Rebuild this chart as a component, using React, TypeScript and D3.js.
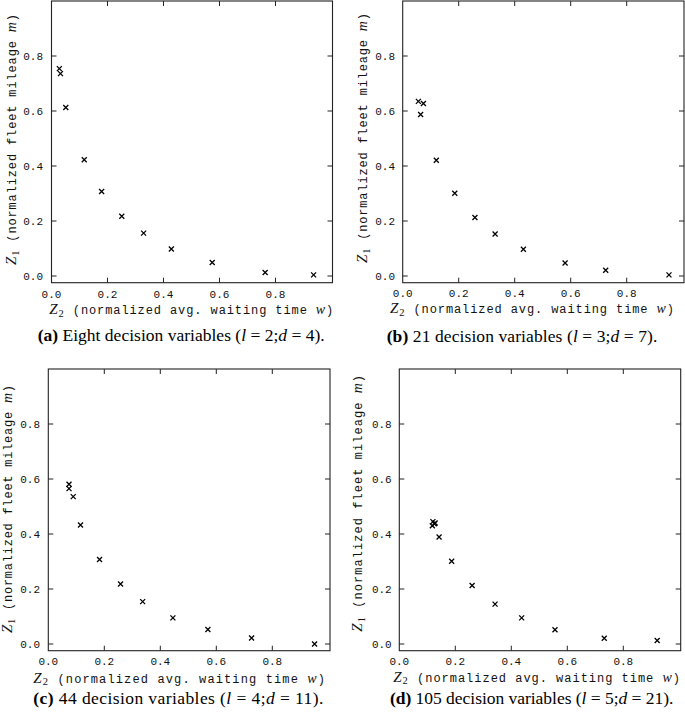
import React from "react";
import * as d3 from "d3";

// ---- Data (normalized avg. waiting time w  vs  normalized fleet mileage m) ----
const panelAW = [0.028, 0.032, 0.051, 0.117, 0.179, 0.251, 0.329, 0.428, 0.574, 0.763, 0.936];
const panelAM = [0.754, 0.736, 0.613, 0.423, 0.307, 0.217, 0.156, 0.098, 0.049, 0.013, 0.004];

const panelBW = [0.056, 0.074, 0.064, 0.120, 0.186, 0.258, 0.330, 0.431, 0.580, 0.725, 0.951];
const panelBM = [0.635, 0.627, 0.587, 0.421, 0.301, 0.213, 0.153, 0.097, 0.047, 0.021, 0.004];

const panelCW = [0.074, 0.074, 0.089, 0.115, 0.183, 0.258, 0.337, 0.445, 0.570, 0.726, 0.951];
const panelCM = [0.581, 0.565, 0.536, 0.433, 0.307, 0.218, 0.154, 0.095, 0.053, 0.022, 0.0];

const panelDW = [0.120, 0.128, 0.118, 0.125, 0.142, 0.187, 0.260, 0.342, 0.437, 0.556, 0.732, 0.921];
const panelDM = [0.445, 0.440, 0.430, 0.437, 0.389, 0.301, 0.213, 0.145, 0.095, 0.052, 0.021, 0.013];

const xTickValues = [0.0, 0.2, 0.4, 0.6, 0.8];
const yTickValues = [0.0, 0.2, 0.4, 0.6, 0.8];

const captionLetters = ["(a)", "(b)", "(c)", "(d)"];
const captionLeads = ["Eight", "21", "44", "105"];
const captionL = ["2", "3", "4", "5"];
const captionD = ["4", "7", "11", "21"];

// ---- Layout (positions only) ----
type Layout = {
  x0: number; y0: number; w: number; h: number;
  tickBase: number; yTickRight: number;
  xlX: number; xlW: number; xlBase: number;
  ylX: number; ylBottom: number; ylTop: number;
  capX: number; capW: number; capBase: number;
};

const layouts: Layout[] = [
  { x0: 51.5, y0: 1, w: 281, h: 281.7, tickBase: 298, yTickRight: 43, xlX: 49.3, xlW: 284, xlBase: 314, ylX: 16, ylBottom: 265, ylTop: 14, capX: 37.7, capW: 287, capBase: 341 },
  { x0: 402.7, y0: 1, w: 281.3, h: 281.7, tickBase: 297, yTickRight: 395, xlX: 390, xlW: 284, xlBase: 313, ylX: 367, ylBottom: 263, ylTop: 13, capX: 386.7, capW: 270.7, capBase: 342.3 },
  { x0: 48.3, y0: 369, w: 281.7, h: 281.7, tickBase: 664.5, yTickRight: 40, xlX: 33.3, xlW: 291.7, xlBase: 682.5, ylX: 12, ylBottom: 633, ylTop: 385, capX: 33.3, capW: 290, capBase: 703.5 },
  { x0: 399.3, y0: 369, w: 281.4, h: 281.7, tickBase: 665.2, yTickRight: 391.7, xlX: 393.3, xlW: 286.7, xlBase: 681.5, ylX: 362, ylBottom: 631.7, ylTop: 375, capX: 390, capW: 283.3, capBase: 703.5 },
];

const panelsW = [panelAW, panelBW, panelCW, panelDW];
const panelsM = [panelAM, panelBM, panelCM, panelDM];

const MONO = "'Liberation Mono', 'DejaVu Sans Mono', monospace";
const SERIF = "'Liberation Serif', 'DejaVu Serif', serif";

const markerPath = d3.symbol(d3.symbolTimes).size(18)() as string;

function Panel({ idx }: { idx: number }) {
  const L = layouts[idx];
  const ws = panelsW[idx];
  const ms = panelsM[idx];
  const x = d3.scaleLinear().domain([0, L.w / 280]).range([L.x0, L.x0 + L.w]);
  const y = d3.scaleLinear().domain([1.0 - L.h / 275, 1.0]).range([L.y0 + L.h, L.y0]);
  const fmt = d3.format(".1f");
  const tk = 5;
  const right = L.x0 + L.w;
  const bottom = L.y0 + L.h;
  return (
    <g>
      <rect x={L.x0} y={L.y0} width={L.w} height={L.h} fill="none" stroke="#222" strokeWidth={1.1} />
      {xTickValues.filter((v) => v > 0).map((v) => (
        <g key={"xt" + v} stroke="#222" strokeWidth={1}>
          <line x1={x(v)} x2={x(v)} y1={bottom} y2={bottom - tk} />
          <line x1={x(v)} x2={x(v)} y1={L.y0} y2={L.y0 + tk} />
        </g>
      ))}
      {yTickValues.map((v) => (
        <g key={"yt" + v} stroke="#222" strokeWidth={1}>
          <line x1={L.x0} x2={L.x0 + tk} y1={y(v)} y2={y(v)} />
          <line x1={right} x2={right - tk} y1={y(v)} y2={y(v)} />
        </g>
      ))}
      {xTickValues.map((v) => (
        <text key={"xl" + v} x={x(v)} y={L.tickBase} textAnchor="middle" fontFamily={MONO} fontSize={11} fill="#111">
          {fmt(v)}
        </text>
      ))}
      {yTickValues.map((v) => (
        <text key={"yl" + v} x={L.yTickRight} y={y(v) + 3.8} textAnchor="end" fontFamily={MONO} fontSize={11} fill="#111">
          {fmt(v)}
        </text>
      ))}
      {ws.map((w, i) => (
        <path key={"p" + i} d={markerPath} transform={`translate(${x(w)},${y(ms[i])})`} fill="none" stroke="#000" strokeWidth={1.3} />
      ))}
      {/* x-axis label */}
      <text x={L.xlX} y={L.xlBase} textLength={L.xlW} lengthAdjust="spacing" fill="#111" style={{ whiteSpace: "pre" }}>
        <tspan fontFamily={SERIF} fontStyle="italic" fontSize={15}>Z</tspan>
        <tspan fontFamily={SERIF} fontSize={10.5} dy={2.5}>2</tspan>
        <tspan fontFamily={MONO} fontSize={12} dy={-2.5}>{" (normalized avg. waiting time "}</tspan>
        <tspan fontFamily={SERIF} fontStyle="italic" fontSize={14}>w</tspan>
        <tspan fontFamily={MONO} fontSize={12}>)</tspan>
      </text>
      {/* y-axis label */}
      <g transform={`translate(${L.ylX},${L.ylBottom}) rotate(-90)`}>
        <text x={0} y={0} textLength={L.ylBottom - L.ylTop} lengthAdjust="spacing" fill="#111" style={{ whiteSpace: "pre" }}>
          <tspan fontFamily={SERIF} fontStyle="italic" fontSize={15}>Z</tspan>
          <tspan fontFamily={SERIF} fontSize={10.5} dy={2.5}>1</tspan>
          <tspan fontFamily={MONO} fontSize={12} dy={-2.5}>{" (normalized fleet mileage "}</tspan>
          <tspan fontFamily={SERIF} fontStyle="italic" fontSize={14}>m</tspan>
          <tspan fontFamily={MONO} fontSize={12}>)</tspan>
        </text>
      </g>
      {/* caption */}
      <text x={L.capX} y={L.capBase} textLength={L.capW} lengthAdjust="spacing" fontFamily={SERIF} fontSize={17.5} fill="#000" style={{ whiteSpace: "pre" }}>
        <tspan fontWeight="bold">{captionLetters[idx]}</tspan>
        <tspan>{` ${captionLeads[idx]} decision variables (`}</tspan>
        <tspan fontStyle="italic">l</tspan>
        <tspan>{` = ${captionL[idx]};`}</tspan>
        <tspan fontStyle="italic">d</tspan>
        <tspan>{` = ${captionD[idx]}).`}</tspan>
      </text>
    </g>
  );
}

export default function App() {
  return (
    <svg width={685} height={715} viewBox="0 0 685 715" style={{ position: "absolute", left: 0, top: 0, background: "#fff" }}>
      <rect x={0} y={0} width={685} height={715} fill="#fff" />
      {[0, 1, 2, 3].map((i) => (
        <Panel key={i} idx={i} />
      ))}
    </svg>
  );
}
